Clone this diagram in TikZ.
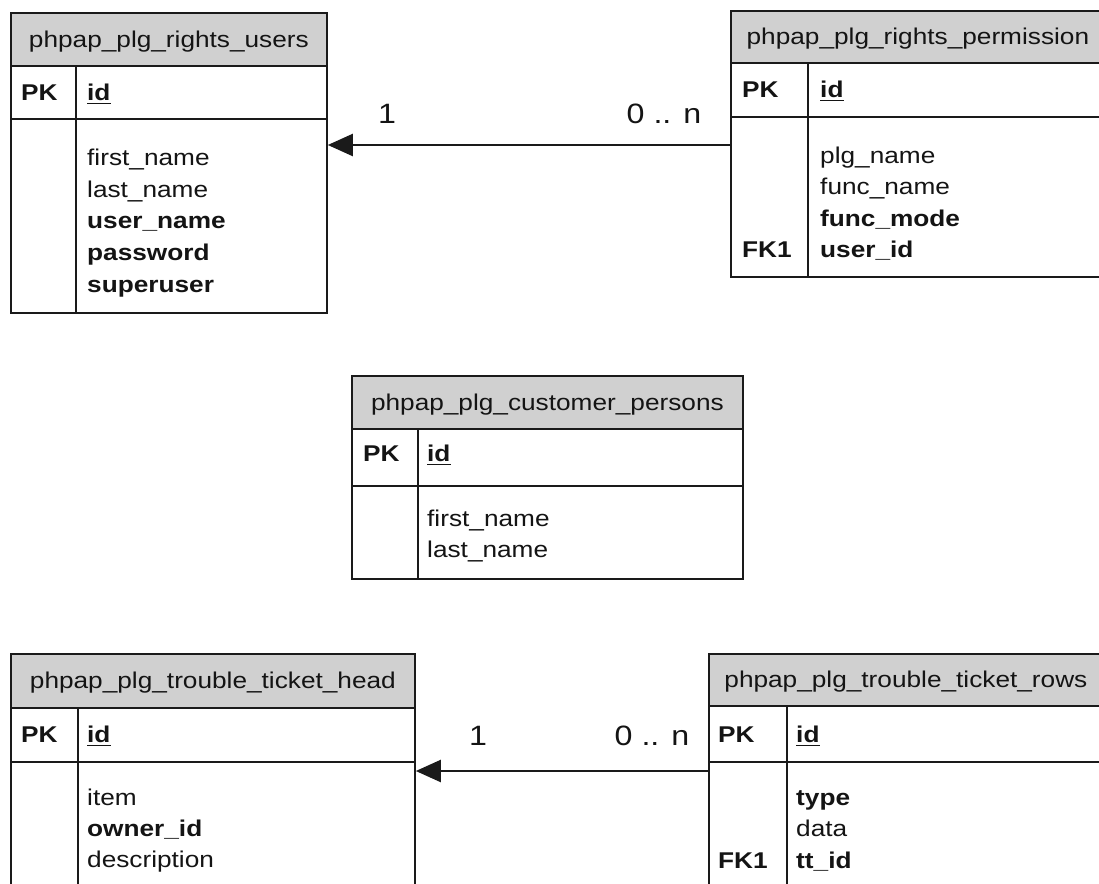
\documentclass[tikz,border=0pt]{standalone}
\usepackage{fontspec}
\setmainfont{Liberation Sans}[FakeStretch=1.15]
\usetikzlibrary{arrows.meta}

\definecolor{hdrgray}{HTML}{D0D0D0}
\definecolor{linec}{HTML}{1A1A1A}
\definecolor{txtc}{HTML}{141414}

\newcommand\fieldfont{\fontsize{22.8}{31.6}\selectfont}
\newcommand\cardfont{\fontsize{28}{34}\selectfont}
% bold primary-key name with a heavy underline
\newcommand\pkname[1]{\setbox0\hbox{\bfseries #1}\rlap{\rule[-4.4pt]{\wd0}{1.8pt}}\box0}

\tikzset{
  tframe/.style={draw=linec, line width=1.8pt},
  hdr/.style={tframe, fill=hdrgray, anchor=north west, inner sep=0pt,
              text height=16pt, text depth=0pt, font=\fieldfont, text=txtc},
  cell/.style={tframe, anchor=north west, inner sep=0pt},
  fld/.style={anchor=base west, inner sep=0pt, font=\fieldfont, text=txtc},
  key/.style={fld, font=\fieldfont\bfseries},
  card/.style={anchor=base, inner sep=0pt, font=\cardfont, text=txtc},
  rel/.style={draw=linec, line width=2.2pt, -{Triangle[length=25pt,width=22pt]}},
  coldiv/.style={draw=linec, line width=1.8pt},
}

\begin{document}
\begin{tikzpicture}[x=1pt, y=-1pt]
\useasboundingbox (0,0) rectangle (1099,883);
\clip (0,0) rectangle (1099,883);
\fill[white] (0,0) rectangle (1099,883);

% ---- phpap_plg_rights_users ----
\node[cell, minimum width=316pt, minimum height=53pt] (users-pk) at (10,65) {};
\node[cell, minimum width=316pt, minimum height=194pt] (users-body) at (10,118) {};
\node[hdr, minimum width=316pt, minimum height=53pt] (users) at (10,12) {phpap\_plg\_rights\_users};
\draw[coldiv] ([xshift=66pt]users-pk.north west) -- ([xshift=66pt]users-body.south west);
\node[key] (users-pkl) at (21,100) {PK};
\node[fld] (users-id) at (87,100) {\pkname{id}};
\node[fld] (users-f1) at (87,165) {first\_name};
\node[fld] (users-f2) at (87,197) {last\_name};
\node[key] (users-f3) at (87,228) {user\_name};
\node[key] (users-f4) at (87,260) {password};
\node[key] (users-f5) at (87,292) {superuser};

% ---- phpap_plg_rights_permission ----
\node[cell, minimum width=374pt, minimum height=54pt] (perm-pk) at (730,62) {};
\node[cell, minimum width=374pt, minimum height=160pt] (perm-body) at (730,116) {};
\node[hdr, minimum width=374pt, minimum height=52pt] (perm) at (730,10) {phpap\_plg\_rights\_permission};
\draw[coldiv] ([xshift=78pt]perm-pk.north west) -- ([xshift=78pt]perm-body.south west);
\node[key] (perm-pkl) at (742,97) {PK};
\node[fld] (perm-id) at (820,97) {\pkname{id}};
\node[fld] (perm-f1) at (820,163) {plg\_name};
\node[fld] (perm-f2) at (820,194) {func\_name};
\node[key] (perm-f3) at (820,226) {func\_mode};
\node[key] (perm-fkl) at (742,257) {FK1};
\node[key] (perm-f4) at (820,257) {user\_id};

% ---- phpap_plg_customer_persons ----
\node[cell, minimum width=391pt, minimum height=57pt] (cust-pk) at (351,428) {};
\node[cell, minimum width=391pt, minimum height=93pt] (cust-body) at (351,485) {};
\node[hdr, minimum width=391pt, minimum height=53pt] (cust) at (351,375) {phpap\_plg\_customer\_persons};
\draw[coldiv] ([xshift=67pt]cust-pk.north west) -- ([xshift=67pt]cust-body.south west);
\node[key] (cust-pkl) at (363,461) {PK};
\node[fld] (cust-id) at (427,461) {\pkname{id}};
\node[fld] (cust-f1) at (427,526) {first\_name};
\node[fld] (cust-f2) at (427,557) {last\_name};

% ---- phpap_plg_trouble_ticket_head ----
\node[cell, minimum width=404pt, minimum height=54pt] (head-pk) at (10,707) {};
\node[cell, minimum width=404pt, minimum height=200pt] (head-body) at (10,761) {};
\node[hdr, minimum width=404pt, minimum height=54pt] (head) at (10,653) {phpap\_plg\_trouble\_ticket\_head};
\draw[coldiv] ([xshift=68pt]head-pk.north west) -- ([xshift=68pt]head-body.south west);
\node[key] (head-pkl) at (21,742) {PK};
\node[fld] (head-id) at (87,742) {\pkname{id}};
\node[fld] (head-f1) at (87,805) {item};
\node[key] (head-f2) at (87,836) {owner\_id};
\node[fld] (head-f3) at (87,867) {description};

% ---- phpap_plg_trouble_ticket_rows ----
\node[cell, minimum width=394pt, minimum height=56pt] (rows-pk) at (708,705) {};
\node[cell, minimum width=394pt, minimum height=200pt] (rows-body) at (708,761) {};
\node[hdr, minimum width=394pt, minimum height=52pt] (rows) at (708,653) {phpap\_plg\_trouble\_ticket\_rows};
\draw[coldiv] ([xshift=79pt]rows-pk.north west) -- ([xshift=79pt]rows-body.south west);
\node[key] (rows-pkl) at (718,742) {PK};
\node[fld] (rows-id) at (796,742) {\pkname{id}};
\node[key] (rows-f1) at (796,805) {type};
\node[fld] (rows-f2) at (796,836) {data};
\node[key] (rows-fkl) at (718,868) {FK1};
\node[key] (rows-f3) at (796,868) {tt\_id};

% ---- relationships ----
\coordinate (rel1) at (0,145);
\coordinate (rel2) at (0,771);
\draw[rel] (perm-body.west |- rel1) -- (users-body.east |- rel1);
\draw[rel] (rows-body.west |- rel2) -- (head-body.east |- rel2);
\node[card] (rel1-one) at (387,123) {1};
\node[card] (rel1-many) at (664,123) {0 .. n};
\node[card] (rel2-one) at (478,745) {1};
\node[card] (rel2-many) at (652,745) {0 .. n};
\end{tikzpicture}
\end{document}
